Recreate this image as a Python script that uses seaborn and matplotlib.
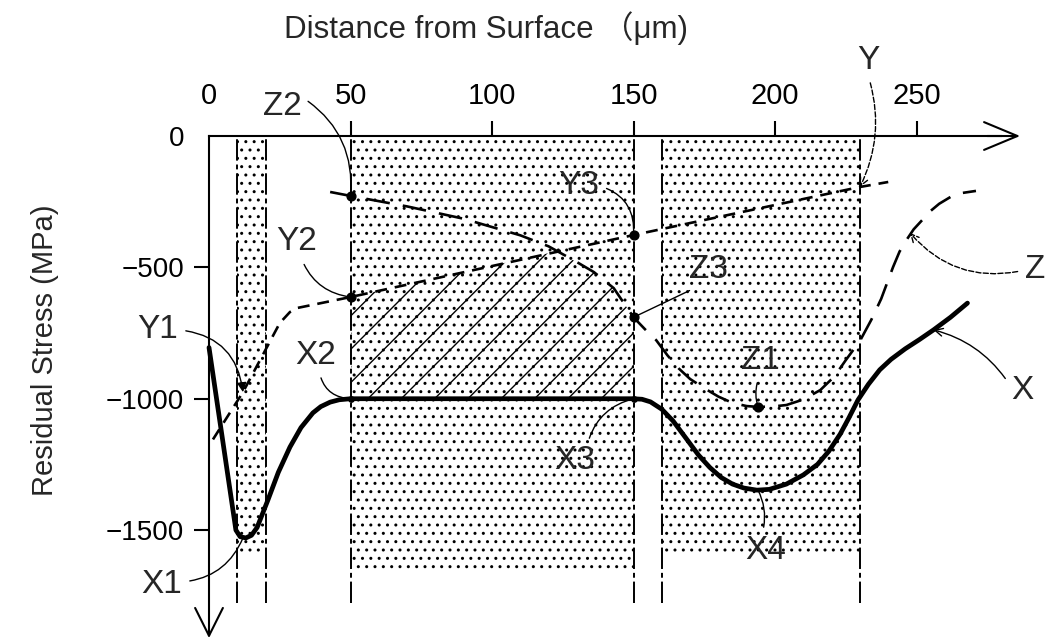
import matplotlib
matplotlib.use('Agg')
import matplotlib.pyplot as plt
import seaborn as sns

# X curve (thick solid)
x_depth = [0, 9.5, 11, 13, 15, 17, 20.8, 24.5, 28.6, 32.5, 36.7, 39.5, 42.8, 46, 50,
           150, 153, 156, 160, 164, 169, 173, 177, 181, 185, 189, 193.6, 198, 204, 210, 215,
           219, 223, 226, 229.3, 233, 237, 241, 246, 251, 256, 262, 268]
x_stress = [-805, -1500, -1525, -1530, -1520, -1490, -1386, -1280, -1184, -1110, -1054, -1030, -1013, -1004, -1000,
            -1000, -1002, -1012, -1040, -1085, -1157, -1215, -1262, -1300, -1325, -1340, -1348, -1345, -1325, -1290, -1250,
            -1200, -1135, -1075, -1005, -945, -890, -850, -810, -775, -738, -690, -636]

# Y curve (short dashes)
y_depth = [1.4, 12, 25, 28.6, 31, 50, 150, 230, 240]
y_stress = [-1155, -975, -712, -670, -655, -613, -377, -194, -175]

# Z curve (long dashes)
z_depth = [42.8, 50, 70, 90, 110, 120, 130, 136, 143, 150, 154, 158, 162, 166, 170, 175, 180, 185, 190,
           194, 199, 204, 210, 216, 221, 225, 230, 234, 237.5, 241.7, 244, 246.5, 249, 252, 255, 258,
           262, 266, 271]
z_stress = [-213, -228, -268, -315, -378, -420, -480, -518, -579, -690, -735, -777, -835, -885, -925, -960, -992, -1016, -1028,
            -1031, -1030, -1024, -1003, -967, -915, -853, -780, -700, -620, -499, -440, -395, -355, -320, -285, -258,
            -232, -217, -209]

# stippled bands and boundaries
band_start = [10, 50, 160]
band_end = [20, 150, 230]
band_depth = [-1595, -1660, -1600]
boundaries = [10, 20, 50, 150, 160, 230]

# hatched region between X and the lower of Y / Z
hatch_x = [50, 122.5, 130, 136, 143, 150]
hatch_top = [-613, -440, -480, -518, -579, -690]

# marked points
dot_x = [50, 150, 50, 150, 194]
dot_y = [-613, -377, -228, -690, -1031]
small_dot_x = [50, 150]
small_dot_y = [-1000, -1000]

# labels with leader lines
labels = ['Z2', 'Y2', 'Y1', 'X1', 'X2', 'X3', 'X4', 'Z1', 'Z3', 'Y3', 'Y', 'Z', 'X']
label_x = [25.8, 31.1, -18, -16.6, 37.5, 129.3, 196.8, 194.7, 176.3, 130.7, 232.9, 291.9, 287.3]
label_y = [114, -403, -738, -1709, -834, -1237, -1576, -853, -510, -190, 289, -510, -967]
target_x = [50, 50, 12, 12, 50, 150, 194, 194, 150, 150, 230, 247.7, 256]
target_y = [-228, -613, -975, -1530, -1000, -1000, -1348, -1031, -690, -377, -194, -369, -738]
rel_pos = [(1, 0.8), (0.6, 0), (1, 0.5), (1, 0.6), (0.6, 0), (0.8, 1), (0.4, 1), (0.5, 0),
           (0.3, 0), (1, 0.5), (0.5, 0), (0, 0.5), (0, 0.6)]
rads = [-0.3, 0.3, -0.4, 0.3, 0.4, -0.3, 0.2, 0.2, 0.0, -0.4, -0.2, -0.3, 0.2]
heads = ['-', '-', '-|>', '-', '-', '-', '-', '-', '-', '-', '->', '->', '->']
leader_ls = ['-', '-', '-', '-', '-', '-', '-', '-', '-', '-', '--', '--', '-']

x_ticks = [0, 50, 100, 150, 200, 250]
y_ticks = [0, -500, -1000, -1500]

sns.set_theme(style='white')
plt.rcParams['font.family'] = ['Liberation Sans', 'Noto Sans CJK JP', 'DejaVu Sans']
plt.rcParams['hatch.linewidth'] = 1.0

fig = plt.figure(figsize=(10.47, 6.42), dpi=100)
ax = fig.add_axes([0, 0, 1, 1])
ax.set_xlim(-73.85, 296.1)
ax.set_ylim(-1926, 517.7)

# stipple bands
for s, e, d in zip(band_start, band_end, band_depth):
    ax.fill_between([s, e], [d, d], [0, 0], facecolor='none', edgecolor='black',
                    hatch='..', linewidth=0)
ax.fill_between(hatch_x, [-1000] * len(hatch_x), hatch_top, facecolor='none',
                edgecolor='black', hatch='/', linewidth=0)

ax.vlines(boundaries, -1778, 0, colors='black', linewidth=1.4,
          linestyles=[(0, (11, 2, 2.5, 2))])

sns.lineplot(x=y_depth, y=y_stress, ax=ax, color='black', linewidth=1.9,
             linestyle=(0, (4.5, 3)), sort=False, estimator=None)
sns.lineplot(x=z_depth, y=z_stress, ax=ax, color='black', linewidth=1.9,
             linestyle=(0, (9, 5)), sort=False, estimator=None)
sns.lineplot(x=x_depth, y=x_stress, ax=ax, color='black', linewidth=3.4,
             sort=False, estimator=None)

ax.scatter(dot_x, dot_y, s=40, color='black', zorder=5)
ax.scatter(small_dot_x, small_dot_y, s=15, color='black', zorder=5)

for i, lab in enumerate(labels):
    ax.annotate(lab, xy=(target_x[i], target_y[i]), xytext=(label_x[i], label_y[i]),
                ha='center', va='center', fontsize=24, annotation_clip=False,
                arrowprops=dict(arrowstyle=heads[i], color='black', lw=1.0,
                                linestyle=leader_ls[i], shrinkA=3, shrinkB=0,
                                relpos=rel_pos[i], mutation_scale=14,
                                connectionstyle='arc3,rad=%s' % rads[i]))

# axes drawn as arrows
for side in ['right', 'bottom']:
    ax.spines[side].set_visible(False)
ax.spines['top'].set_position(('data', 0))
ax.spines['left'].set_position(('data', 0))
ax.spines['top'].set_bounds(0, 280)
ax.spines['left'].set_bounds(-1900, 0)
for side in ['top', 'left']:
    ax.spines[side].set_linewidth(1.5)
    ax.spines[side].set_color('black')

ax.annotate('', xy=(286.6, 0), xytext=(275, 0),
            arrowprops=dict(arrowstyle='->,head_length=1.2,head_width=0.5', lw=1.5,
                            color='black', mutation_scale=20, shrinkA=0, shrinkB=0))
ax.annotate('', xy=(0, -1911), xytext=(0, -1880),
            arrowprops=dict(arrowstyle='->,head_length=1.0,head_width=0.5', lw=1.5,
                            color='black', mutation_scale=20, shrinkA=0, shrinkB=0))

ax.xaxis.set_ticks_position('top')
ax.yaxis.set_ticks_position('left')
ax.set_xticks(x_ticks)
ax.set_xticklabels([str(v) for v in x_ticks])
ax.set_yticks(y_ticks)
ax.set_yticklabels(['0'] + ['\u2212' + str(-v) for v in y_ticks[1:]])
ax.tick_params(axis='x', direction='out', length=11, width=1.5, pad=8, labelsize=21, colors='black')
ax.tick_params(axis='y', direction='out', length=11, width=1.5, pad=7, labelsize=20, colors='black')
ax.xaxis.get_major_ticks()[0].tick2line.set_visible(False)
ax.yaxis.get_major_ticks()[0].tick1line.set_visible(False)
ax.set_xlabel('')
ax.set_ylabel('')

ax.text(0.464, 0.956, 'Distance from Surface （μm)', transform=ax.transAxes,
        ha='center', va='center', fontsize=22.5)
ax.text(0.043, 0.455, 'Residual Stress (MPa)', transform=ax.transAxes,
        ha='center', va='center', fontsize=21, rotation=90)

fig.savefig('out.png', dpi=100, facecolor='white')
